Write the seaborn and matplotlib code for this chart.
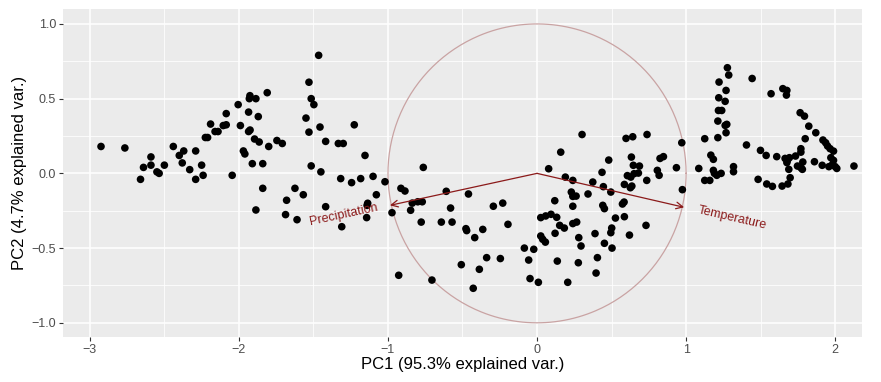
import numpy as np
import pandas as pd
import matplotlib
matplotlib.use("Agg")
import matplotlib.pyplot as plt
import seaborn as sns

pc1 = [-2.925, -2.765, -2.59, -2.64, -2.59, -2.50, -2.55, -2.535, -2.66, -2.44, -2.40, -2.37, -2.38,
       -2.29, -2.25, -2.33, -2.24, -2.29, -2.19, -2.225, -2.21, -2.16, -2.14, -2.105, -2.085, -2.085,
       -2.005, -1.93, -1.926, -1.886, -1.81, -1.935, -1.87, -1.99, -1.935, -1.925, -1.895, -1.864,
       -1.97, -1.96, -1.80, -1.745, -1.91, -1.84, -2.045, -1.84, -1.886, -1.465, -1.53, -1.515,
       -1.497, -1.55, -1.456, -1.53, -1.226, -1.709, -1.418, -1.333, -1.30, -1.154, -1.515, -1.45,
       -1.317, -1.183, -1.10, -0.763, -1.244, -1.02, -1.624, -1.568, -1.68, -1.687, -1.61, -1.418,
       -1.31, -1.078, -1.136, -1.14, -1.143, -0.973, -0.913, -0.886, -0.837, -0.80, -0.77, -0.609,
       -0.46, -0.848, -0.777, -0.642, -0.57, -0.58, -0.477, -0.472, -0.928, -0.705, -0.508,
       0.302, 0.159, 0.078, 0.597, 0.642, 0.738, 0.481, 0.633, 0.825, 0.848, 0.935, 0.646, 0.687,
       0.807, 0.819, 0.436, 0.606, 0.629, 0.651, 0.68, 0.19, 0.24, 0.374, 0.445, 0.495, 0.586,
       0.626, 0.636, 0.736, -0.293, -0.23, 0.119, 0.23, 0.24, 0.262, 0.342, 0.24, 0.441, 0.452,
       0.573, 0.584, 0.526, 0.586, -0.364, -0.418, -0.195, -0.387, -0.338, -0.246, -0.428,
       -0.085, -0.022, -0.056, -0.047, 0.009, 0.025, 0.058, 0.094, 0.132, 0.152, 0.183, 0.025,
       0.038, 0.056, 0.121, 0.24, 0.266, 0.28, 0.295, 0.389, 0.452, 0.501, 0.495, 0.503, 0.62,
       0.731, 0.136, 0.277, 0.405, 0.396, 0.206,
       1.277, 1.286, 1.221, 1.443, 1.268, 1.219, 1.262, 1.217, 1.239, 1.213, 1.262, 1.273, 1.268,
       1.213, 1.125, 0.971, 1.57, 1.649, 1.676, 1.673, 1.405, 1.499, 1.537, 1.608, 1.166, 1.183,
       1.085, 1.183, 1.19, 1.206, 1.235, 1.125, 1.159, 1.318, 1.318, 0.975, 1.483, 1.541, 1.579,
       1.644, 1.683, 1.698, 1.664, 1.68, 1.693, 1.676, 1.689, 1.734, 1.77, 1.77, 1.783, 1.747,
       1.77, 1.78, 1.799, 1.765, 1.794, 1.823, 1.87, 1.918, 1.936, 1.949, 1.966, 1.989, 1.971,
       1.989, 1.982, 2.0, 2.011, 1.958, 1.861, 1.913, 2.126]

pc2 = [0.18, 0.17, 0.11, 0.04, 0.055, 0.055, 0.01, 0.0, -0.04, 0.18, 0.12, 0.15, 0.07,
       0.15, 0.055, 0.025, -0.013, -0.04, 0.33, 0.24, 0.24, 0.28, 0.28, 0.32, 0.325, 0.40,
       0.46, 0.50, 0.52, 0.50, 0.54, 0.41, 0.38, 0.32, 0.28, 0.29, 0.23, 0.21,
       0.15, 0.13, 0.18, 0.22, 0.065, 0.065, -0.013, -0.10, -0.245, 0.79, 0.61, 0.50,
       0.46, 0.37, 0.31, 0.276, 0.325, 0.20, 0.214, 0.20, 0.20, 0.12, 0.05, 0.01,
       -0.035, -0.035, -0.02, 0.04, -0.062, -0.056, -0.10, -0.143, -0.18, -0.276, -0.31, -0.223,
       -0.357, -0.143, -0.20, -0.214, -0.296, -0.263, -0.10, -0.118, -0.199, -0.19, -0.19, -0.12,
       -0.138, -0.247, -0.326, -0.326, -0.326, -0.232, -0.37, -0.383, -0.682, -0.714, -0.611,
       0.26, 0.142, 0.031, 0.234, 0.245, 0.26, 0.089, 0.109, 0.10, 0.112, 0.038, 0.054, 0.049,
       0.02, -0.013, 0.007, -0.015, -0.025, -0.002, 0.002, -0.025, -0.047, -0.058, -0.089, -0.125, -0.074,
       -0.096, -0.085, -0.047, -0.22, -0.199, -0.183, -0.125, -0.154, -0.152, -0.138, -0.22, -0.214, -0.236,
       -0.205, -0.192, -0.299, -0.29, -0.375, -0.43, -0.341, -0.642, -0.564, -0.57, -0.769,
       -0.50, -0.508, -0.58, -0.704, -0.729, -0.296, -0.285, -0.274, -0.294, -0.348, -0.366, -0.419,
       -0.441, -0.46, -0.401, -0.336, -0.326, -0.43, -0.486, -0.403, -0.468, -0.366, -0.397, -0.50, -0.413,
       -0.348, -0.587, -0.598, -0.564, -0.667, -0.729,
       0.707, 0.658, 0.611, 0.635, 0.555, 0.506, 0.482, 0.421, 0.421, 0.35, 0.321, 0.328, 0.272,
       0.239, 0.232, 0.205, 0.533, 0.567, 0.555, 0.524, 0.19, 0.154, 0.12, 0.112, 0.122, 0.094,
       0.033, 0.02, 0.0, -0.013, 0.0, -0.047, -0.047, 0.045, 0.011, -0.109, -0.04, -0.071, -0.087,
       -0.085, -0.071, -0.029, 0.10, 0.087, 0.105, 0.072, 0.027, 0.116, 0.165, 0.142, 0.076, 0.049,
       0.038, 0.027, 0.232, 0.406, 0.383, 0.316, 0.272, 0.223, 0.205, 0.183, 0.165, 0.149, 0.105,
       0.087, 0.06, 0.045, 0.033, 0.045, 0.078, 0.054, 0.049]

var_names = ["Precipitation", "Temperature"]
var_x = [-0.987, 0.987]
var_y = [-0.214, -0.227]

xlabel = "PC1 (95.3% explained var.)"
ylabel = "PC2 (4.7% explained var.)"

df = pd.DataFrame({"PC1": pc1, "PC2": pc2})

plt.rcParams["font.family"] = ["Liberation Sans", "DejaVu Sans"]
fig = plt.figure(figsize=(8.81, 3.82), dpi=100)
ax = fig.add_axes([63 / 881, 45 / 382, (862 - 63) / 881, (337 - 9) / 382])
ax.set_facecolor("#EBEBEB")

# grid
for v in np.arange(-3.0, 2.01, 1.0):
    ax.axvline(v, color="white", lw=1.1, zorder=0)
for v in np.arange(-2.5, 2.01, 1.0):
    ax.axvline(v, color="white", lw=0.55, zorder=0)
for v in np.arange(-1.0, 1.01, 0.5):
    ax.axhline(v, color="white", lw=1.1, zorder=0)
for v in np.arange(-0.75, 1.01, 0.5):
    ax.axhline(v, color="white", lw=0.55, zorder=0)

# circle
theta = np.linspace(0, 2 * np.pi, 400)
ax.plot(np.cos(theta), np.sin(theta), color="#C9A3A3", lw=0.9, zorder=1)

sns.scatterplot(data=df, x="PC1", y="PC2", color="black", s=30, edgecolor="none", ax=ax, zorder=3)

for name, vx, vy in zip(var_names, var_x, var_y):
    ax.annotate("", xy=(vx, vy), xytext=(0, 0),
                arrowprops=dict(arrowstyle="->", color="#8B1A1A", lw=0.9,
                                shrinkA=0, shrinkB=0, mutation_scale=12), zorder=4)

ang = np.degrees(np.arctan2(var_y[1], var_x[1]))
ang0 = np.degrees(np.arctan2(-var_y[0], -var_x[0]))
ax.text(-1.30, -0.275, var_names[0], color="#8B1A1A", fontsize=9, rotation=ang0,
        ha="center", va="center", rotation_mode="anchor", zorder=5)
ax.text(1.31, -0.30, var_names[1], color="#8B1A1A", fontsize=9, rotation=ang,
        ha="center", va="center", rotation_mode="anchor", zorder=5)

ax.set_xlim(-3.18, 2.18)
ax.set_ylim(-1.095, 1.10)
ax.set_xticks([-3, -2, -1, 0, 1, 2])
ax.set_xticklabels(["\u22123", "\u22122", "\u22121", "0", "1", "2"])
ax.set_yticks([-1.0, -0.5, 0.0, 0.5, 1.0])
ax.set_yticklabels(["\u22121.0", "\u22120.5", "0.0", "0.5", "1.0"])
ax.tick_params(colors="#333333", labelcolor="#4D4D4D", labelsize=9, length=3, width=0.8, pad=2)
for s in ax.spines.values():
    s.set_visible(False)
ax.grid(False)
ax.set_xlabel(xlabel, fontsize=12, color="black", labelpad=1)
ax.set_ylabel(ylabel, fontsize=12, color="black", labelpad=3)

fig.savefig("out.png", dpi=100)
